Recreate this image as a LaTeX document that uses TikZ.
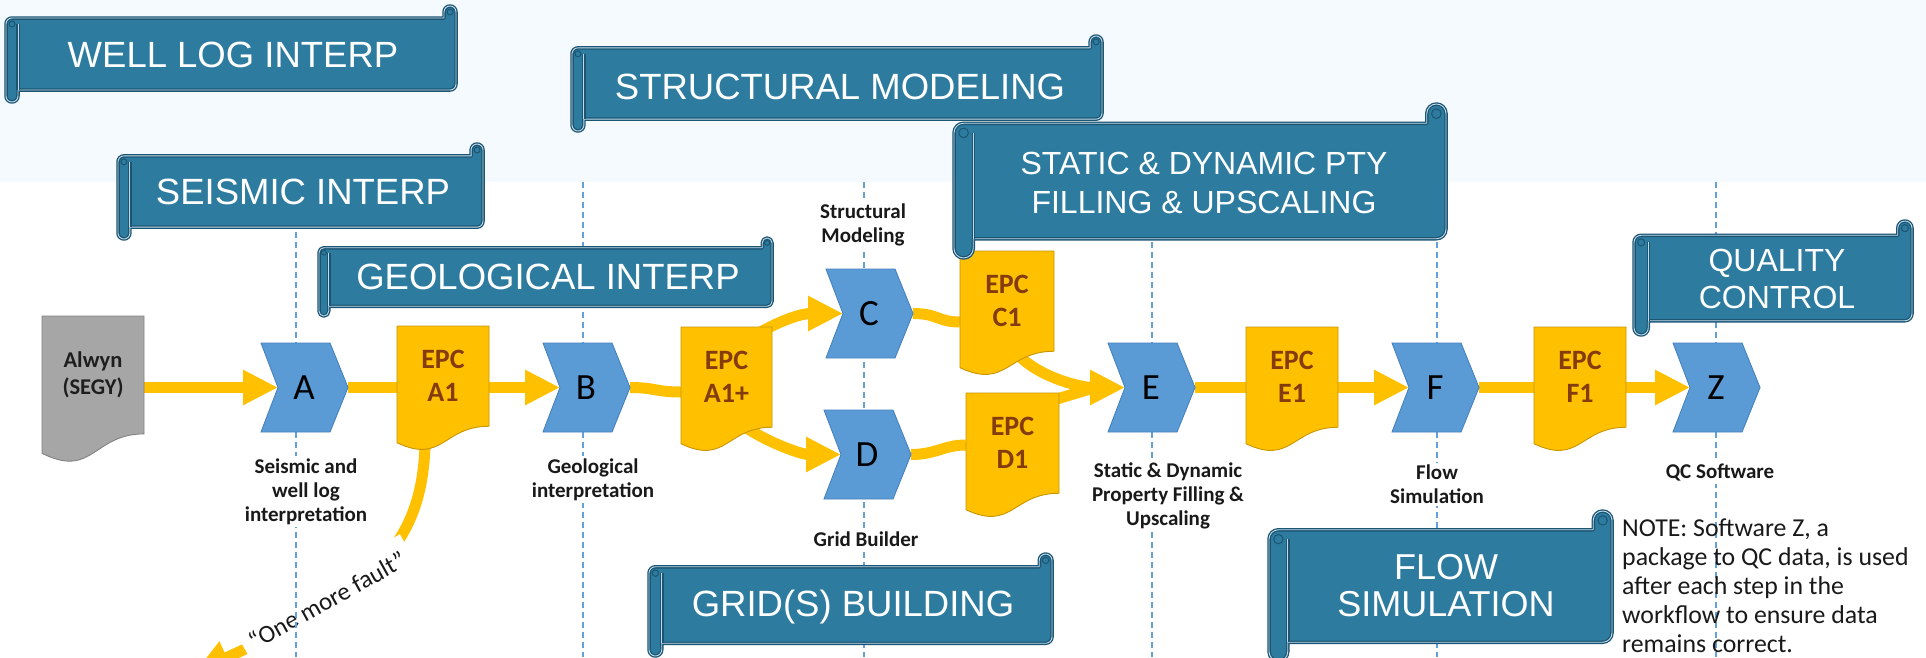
\documentclass[tikz,border=0pt]{standalone}
\usepackage{fontspec}
\setmainfont{Carlito}
\newfontfamily\arialf{Liberation Sans}
\usetikzlibrary{arrows.meta,calc}
\pgfdeclarelayer{under}
\pgfdeclarelayer{conns}
\pgfsetlayers{under,conns,main}

\definecolor{scrollfill}{RGB}{45,124,160}
\definecolor{scrolldark}{RGB}{28,84,114}
\definecolor{scrollhi}{RGB}{190,220,235}
\definecolor{chevfill}{RGB}{91,155,213}
\definecolor{chevline}{RGB}{70,130,190}
\definecolor{epcfill}{RGB}{255,192,0}
\definecolor{epcline}{RGB}{200,150,0}
\definecolor{epcbrown}{RGB}{132,60,12}
\definecolor{grayfill}{RGB}{166,166,166}
\definecolor{grayline}{RGB}{130,130,130}
\definecolor{docdark}{RGB}{30,30,30}
\definecolor{lbltext}{RGB}{25,25,25}
\definecolor{guidecol}{RGB}{100,160,220}
\definecolor{topband}{RGB}{244,250,253}

\tikzset{
 scroll/.style={fill=scrollfill, draw=scrolldark, double=scrollhi, double distance=0.9pt, line width=1.3pt, line join=round},
 scrollin/.style={draw=scrolldark, double=scrollhi, double distance=0.9pt, line width=1.3pt},
 bannertext/.style={text=white, align=center, inner sep=0pt, font=\arialf\fontsize{36.5}{40}\selectfont},
 chevshape/.style={fill=chevfill, draw=chevline, line width=0.9pt},
 chevtext/.style={inner sep=0pt, font=\fontsize{37}{40}\selectfont, text=black},
 epcshape/.style={fill=epcfill, draw=epcline, line width=0.9pt},
 graydoc/.style={fill=grayfill, draw=grayline, line width=0.9pt},
 epclabel/.style={inner sep=0pt, align=center, text=epcbrown, font=\bfseries\fontsize{28}{33}\selectfont},
 graytext/.style={inner sep=0pt, align=center, text=docdark, font=\bfseries\fontsize{22.5}{27}\selectfont},
 lbl/.style={fill=white, inner sep=2pt, align=center, text=lbltext, font=\bfseries\fontsize{21}{24}\selectfont},
 conn/.style={draw=epcfill, line width=11pt},
 arr/.style={-{Triangle[length=35pt,width=33pt]}},
 guideline/.style={draw=guidecol, line width=1.4pt, dash pattern=on 6pt off 4pt},
 faulttext/.style={fill=white, inner xsep=8pt, inner ysep=13pt, text=lbltext, font=\fontsize{25}{30}\selectfont},
 notetext/.style={inner sep=0pt, align=left, text=lbltext, font=\fontsize{25.8}{29}\selectfont},
}

% scroll banner: left, top(curl), right, bottom(roll)
\newcommand\scrollbanner[4]{%
\pgfmathsetmacro\skc{(#4-#2)/8}%
\pgfmathsetmacro\skh{\skc/2}%
\pgfmathsetmacro\skq{\skc/4}%
\filldraw[scroll] (#1,#2+1.5*\skc) arc[start angle=180,end angle=270,radius=\skh]
 -- (#3-\skc,#2+\skc) -- (#3-\skc,#2+\skh) arc[start angle=180,end angle=360,radius=\skh]
 -- (#3,#4-1.5*\skc) arc[start angle=0,end angle=90,radius=\skh]
 -- (#1+\skc,#4-\skc) -- (#1+\skc,#4-\skh) arc[start angle=0,end angle=180,radius=\skh] -- cycle;
\draw[scrollin] (#1+\skc,#2+1.5*\skc) -- (#1+\skc,#4-\skc);
\draw[scrolldark, line width=1pt] (#1+\skh,#2+1.5*\skc) circle[radius=\skq];
\draw[scrolldark, line width=1pt] (#3-\skh,#2+\skh) circle[radius=\skq];
}

% chevron: name, left, center y, letter
\newcommand\chevron[4]{%
\filldraw[chevshape] (#2,#3-44.5) -- (#2+69,#3-44.5) -- (#2+87,#3) -- (#2+69,#3+44.5) -- (#2,#3+44.5) -- (#2+17,#3) -- cycle;
\coordinate (#1in) at (#2+17,#3);
\coordinate (#1out) at (#2+87,#3);
\node[chevtext] (#1) at (#2+43,#3) {#4};
}

% document: shape style, text style, name, left, top, width, height, text
\newcommand\epcdoc[8]{%
\filldraw[#1] (#4,#5) -- (#4+#6,#5) -- (#4+#6,#5+0.802*#7) .. controls (#4+0.5*#6,#5+0.802*#7) and (#4+0.5*#6,#5+1.1075*#7) .. (#4,#5+0.934*#7) -- cycle;
\node[#2, minimum width=#6, minimum height=0.8*#7] (#3) at (#4+0.5*#6,#5+0.4*#7) {#8};
}

\begin{document}
\begin{tikzpicture}[x=1pt,y=-1pt]
\useasboundingbox (0,0) rectangle (1926,657);
\clip (0,0) rectangle (1926,657);
\begin{pgfonlayer}{under}
\fill[white] (0,0) rectangle (1926,657);
\fill[topband] (0,0) rectangle (1926,182);
\end{pgfonlayer}

% documents
\epcdoc{graydoc}{graytext}{alwyn}{42}{316}{102}{147}{Alwyn\\(SEGY)}
\epcdoc{epcshape}{epclabel}{A1}{397}{326}{92}{125}{EPC\\A1}
\epcdoc{epcshape}{epclabel}{A1p}{681}{327}{91}{125}{EPC\\A1+}
\epcdoc{epcshape}{epclabel}{C1}{960}{251}{94}{125}{EPC\\C1}
\epcdoc{epcshape}{epclabel}{D1}{966}{393}{93}{125}{EPC\\D1}
\epcdoc{epcshape}{epclabel}{E1}{1246}{327}{92}{125}{EPC\\E1}
\epcdoc{epcshape}{epclabel}{F1}{1534}{327}{92}{125}{EPC\\F1}

% chevrons
\chevron{A}{261}{387.5}{A}
\chevron{B}{543}{387.5}{B}
\chevron{C}{826}{313.5}{C}
\chevron{D}{824}{454.5}{D}
\chevron{E}{1108}{387.5}{E}
\chevron{F}{1392}{387.5}{F}
\chevron{Z}{1673}{387.5}{Z}

\begin{pgfonlayer}{under}
\coordinate (faultend) at (195,672);
\draw[conn,arr] ($(A1.south)+(-18,0)$) .. controls (428,545) and (375,590) .. (faultend);
\node[faulttext, rotate=29] (fault) at (327,600) {“One more fault”};
\foreach \gx in {296,583,864,1152,1437,1716} \draw[guideline] (\gx,182) -- (\gx,657);
\node[lbl] (Alab) at (306,491.5) {Seismic and\\well log\\interpretation};
\node[lbl] (Blab) at (593,479.5) {Geological\\interpretation};
\node[lbl] (Clab) at (863,225) {Structural\\Modeling};
\node[lbl] (Dlab) at (866,539) {Grid Builder};
\node[lbl] (Elab) at (1168,496) {Static \& Dynamic\\Property Filling \&\\Upscaling};
\node[lbl] (Flab) at (1437,484.5) {Flow\\Simulation};
\node[lbl] (Zlab) at (1720,473) {QC Software};
\end{pgfonlayer}

\begin{pgfonlayer}{conns}
\draw[conn,arr] (alwyn.east |- Ain) -- (Ain);
\draw[conn] (Aout) -- (A1.west |- Aout);
\draw[conn,arr] (A1.east |- Bin) -- (Bin);
\draw[conn] (Bout) .. controls +(25,0) and +(-25,0) .. ($(A1p.west)+(0,15)$);
\draw[conn,arr] ($(A1p.north east)+(-20,10)$) .. controls +(30,-18) and +(-40,0) .. (Cin);
\draw[conn,arr] ($(A1p.south east)+(-40,-10)$) .. controls +(25,22) and +(-40,0) .. (Din);
\draw[conn] (Cout) .. controls +(25,0) and +(-22,0) .. ($(C1.west)+(0,21)$);
\draw[conn] (Dout) .. controls +(25,0) and +(-22,0) .. ($(D1.west)+(0,2)$);
\draw[conn,arr] ($(C1.south)+(8,0)$) .. controls +(20,25) and +(-45,0) .. (Ein);
\draw[conn] ($(D1.north east)+(-15,10)$) -- ($(Ein)+(-30,0)$);
\draw[conn] (Eout) -- (E1.west |- Eout);
\draw[conn,arr] (E1.east |- Fin) -- (Fin);
\draw[conn] (Fout) -- (F1.west |- Fout);
\draw[conn,arr] (F1.east |- Zin) -- (Zin);
\end{pgfonlayer}

% banners
\scrollbanner{6}{6}{456}{102}
\node[bannertext] (tWell) at (233,55) {WELL LOG INTERP};
\scrollbanner{118}{144}{483}{239}
\node[bannertext] (tSeis) at (303,192) {SEISMIC INTERP};
\scrollbanner{319}{238}{772}{316}
\node[bannertext] (tGeo) at (548,277) {GEOLOGICAL INTERP};
\scrollbanner{572}{36}{1102}{131}
\node[bannertext] (tStruct) at (840,87) {STRUCTURAL MODELING};
\scrollbanner{954}{104}{1446}{258}
\node[bannertext, font=\arialf\fontsize{32}{39}\selectfont] (tStatic) at (1204,182.5) {STATIC \& DYNAMIC PTY\\FILLING \& UPSCALING};
\scrollbanner{1634}{221}{1912}{335}
\node[bannertext, font=\arialf\fontsize{32}{37}\selectfont] (tQC) at (1777,278.5) {QUALITY\\CONTROL};
\scrollbanner{649}{554}{1052}{656}
\node[bannertext] (tGrid) at (853,607) {GRID(S) BUILDING};
\scrollbanner{1269}{511}{1612}{661}
\node[bannertext, font=\arialf\fontsize{36}{37}\selectfont] (tFlow) at (1446,585.5) {FLOW\\SIMULATION};

\node[notetext, anchor=west] (note) at (1622,585.5) {NOTE: Software Z, a\\package to QC data, is used\\after each step in the\\workflow to ensure data\\remains correct.};
\end{tikzpicture}
\end{document}
